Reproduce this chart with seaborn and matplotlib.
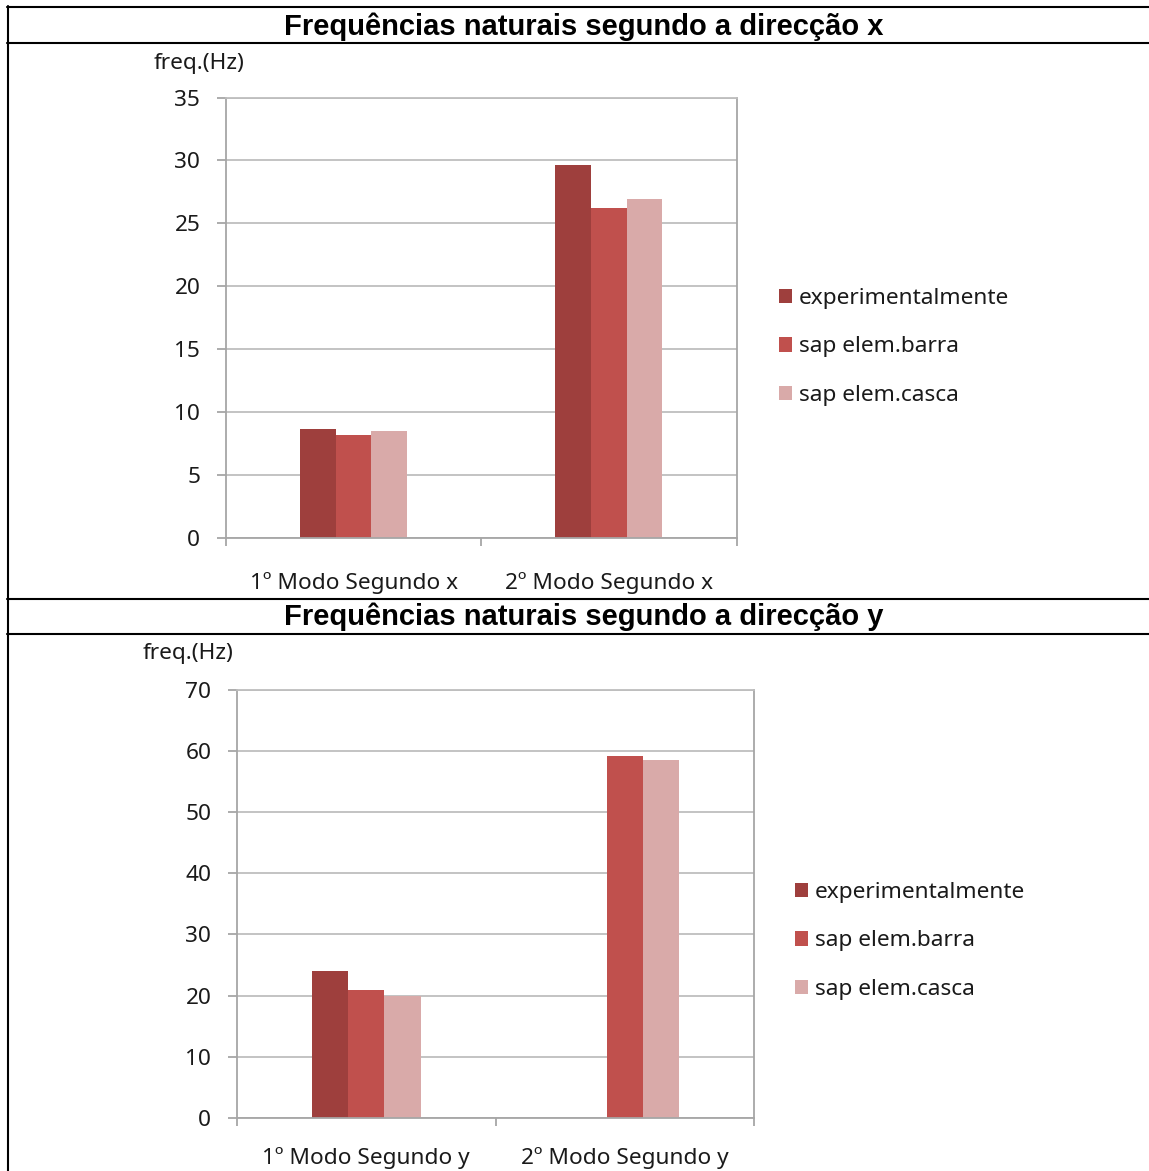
import numpy as np
import pandas as pd
import matplotlib
matplotlib.use("Agg")
import matplotlib.pyplot as plt
from matplotlib.lines import Line2D
import seaborn as sns

# Natural frequencies (Hz) per mode and method
series = ["experimentalmente", "sap elem.barra", "sap elem.casca"]
colors = ["#9E3F3D", "#C0504D", "#D9AAA9"]

modes_x = ["1º Modo Segundo x", "2º Modo Segundo x"]
exp_x = [8.6, 29.6]
barra_x = [8.15, 26.25]
casca_x = [8.45, 26.9]

modes_y = ["1º Modo Segundo y", "2º Modo Segundo y"]
exp_y = [24.1, np.nan]
barra_y = [20.9, 59.1]
casca_y = [19.95, 58.5]

yticks_x = [0, 5, 10, 15, 20, 25, 30, 35]
yticks_y = [0, 10, 20, 30, 40, 50, 60, 70]

titles = ["Frequências naturais segundo a direcção x",
          "Frequências naturais segundo a direcção y"]
ylabel = "freq.(Hz)"


def to_frame(modes, exp, barra, casca):
    rows = []
    for vals, name in zip([exp, barra, casca], series):
        for m, v in zip(modes, vals):
            rows.append({"modo": m, "serie": name, "freq": v})
    return pd.DataFrame(rows)


sns.set_theme(style="white")
plt.rcParams["font.family"] = ["Noto Sans", "DejaVu Sans"]

W, H = 1149, 1171
fig = plt.figure(figsize=(W / 100, H / 100), dpi=100)
fig.patch.set_facecolor("white")

GRID = "#BEBEBE"
AXIS = "#A6A6A6"
TXT = "#1A1A1A"
FS = 16.3


def px_rect(left, top, right, bottom):
    return [left / W, 1 - bottom / H, (right - left) / W, (bottom - top) / H]


def draw_panel(rect, df, modes, yticks, legend_center_y, legend_x, ylab_xy,
               xpad):
    ax = fig.add_axes(rect)
    sns.barplot(data=df, x="modo", y="freq", hue="serie", order=modes,
                hue_order=series, palette=colors, width=0.42, ax=ax,
                saturation=1, errorbar=None, linewidth=0)
    ax.set_xlim(-0.5, 1.5)
    ax.set_ylim(yticks[0], yticks[-1])
    ax.set_yticks(yticks)
    ax.yaxis.grid(True, color=GRID, linewidth=1.3)
    ax.set_axisbelow(True)
    for side in ["left", "bottom", "right"]:
        ax.spines[side].set_visible(True)
        ax.spines[side].set_color(AXIS)
        ax.spines[side].set_linewidth(1.3)
    ax.spines["top"].set_visible(True)
    ax.spines["top"].set_color(GRID)
    ax.spines["top"].set_linewidth(1.3)
    ax.set_xlabel("")
    ax.set_ylabel("")
    ax.tick_params(axis="y", direction="out", length=6.5, width=1.3,
                   color=AXIS, labelsize=FS, labelcolor=TXT, pad=12, left=True)
    ax.set_xticks([0, 1])
    ax.set_xticklabels(modes)
    ax.set_xticks([-0.5, 0.5, 1.5], minor=True)
    ax.tick_params(axis="x", which="major", length=0, labelsize=FS,
                   labelcolor=TXT, pad=xpad)
    ax.tick_params(axis="x", which="minor", direction="out", length=6,
                   width=1.3, color=AXIS, bottom=True)
    leg = ax.legend(loc="center left",
                    bbox_to_anchor=(legend_x / W, 1 - legend_center_y / H),
                    bbox_transform=fig.transFigure, frameon=False,
                    fontsize=FS, handlelength=0.58, handleheight=0.58,
                    handletextpad=0.3, labelspacing=1.2, borderpad=0,
                    borderaxespad=0)
    for t in leg.get_texts():
        t.set_color(TXT)
    fig.text(ylab_xy[0] / W, 1 - ylab_xy[1] / H, ylabel, fontsize=FS,
             color=TXT, ha="left", va="center")
    return ax


draw_panel(px_rect(226, 97.5, 736.5, 537.5),
           to_frame(modes_x, exp_x, barra_x, casca_x), modes_x, yticks_x,
           347, 779, (154, 63), 25)
draw_panel(px_rect(237, 689.5, 754, 1118.2),
           to_frame(modes_y, exp_y, barra_y, casca_y), modes_y, yticks_y,
           941, 795, (143, 653), 20.5)

# Table frame with header rows
for yline in [7, 43, 599, 634]:
    fig.add_artist(Line2D([7 / W, 1], [1 - yline / H, 1 - yline / H],
                          color="black", linewidth=1.5,
                          transform=fig.transFigure))
fig.add_artist(Line2D([7.5 / W, 7.5 / W], [1 - 6 / H, 0], color="black",
                      linewidth=1.5, transform=fig.transFigure))

for title, yc in zip(titles, [27, 617]):
    fig.text(584 / W, 1 - yc / H, title, fontsize=21, fontweight="bold",
             family=["Liberation Sans", "DejaVu Sans"], ha="center",
             va="center", color="black")

fig.savefig("out.png", dpi=100, facecolor="white")
